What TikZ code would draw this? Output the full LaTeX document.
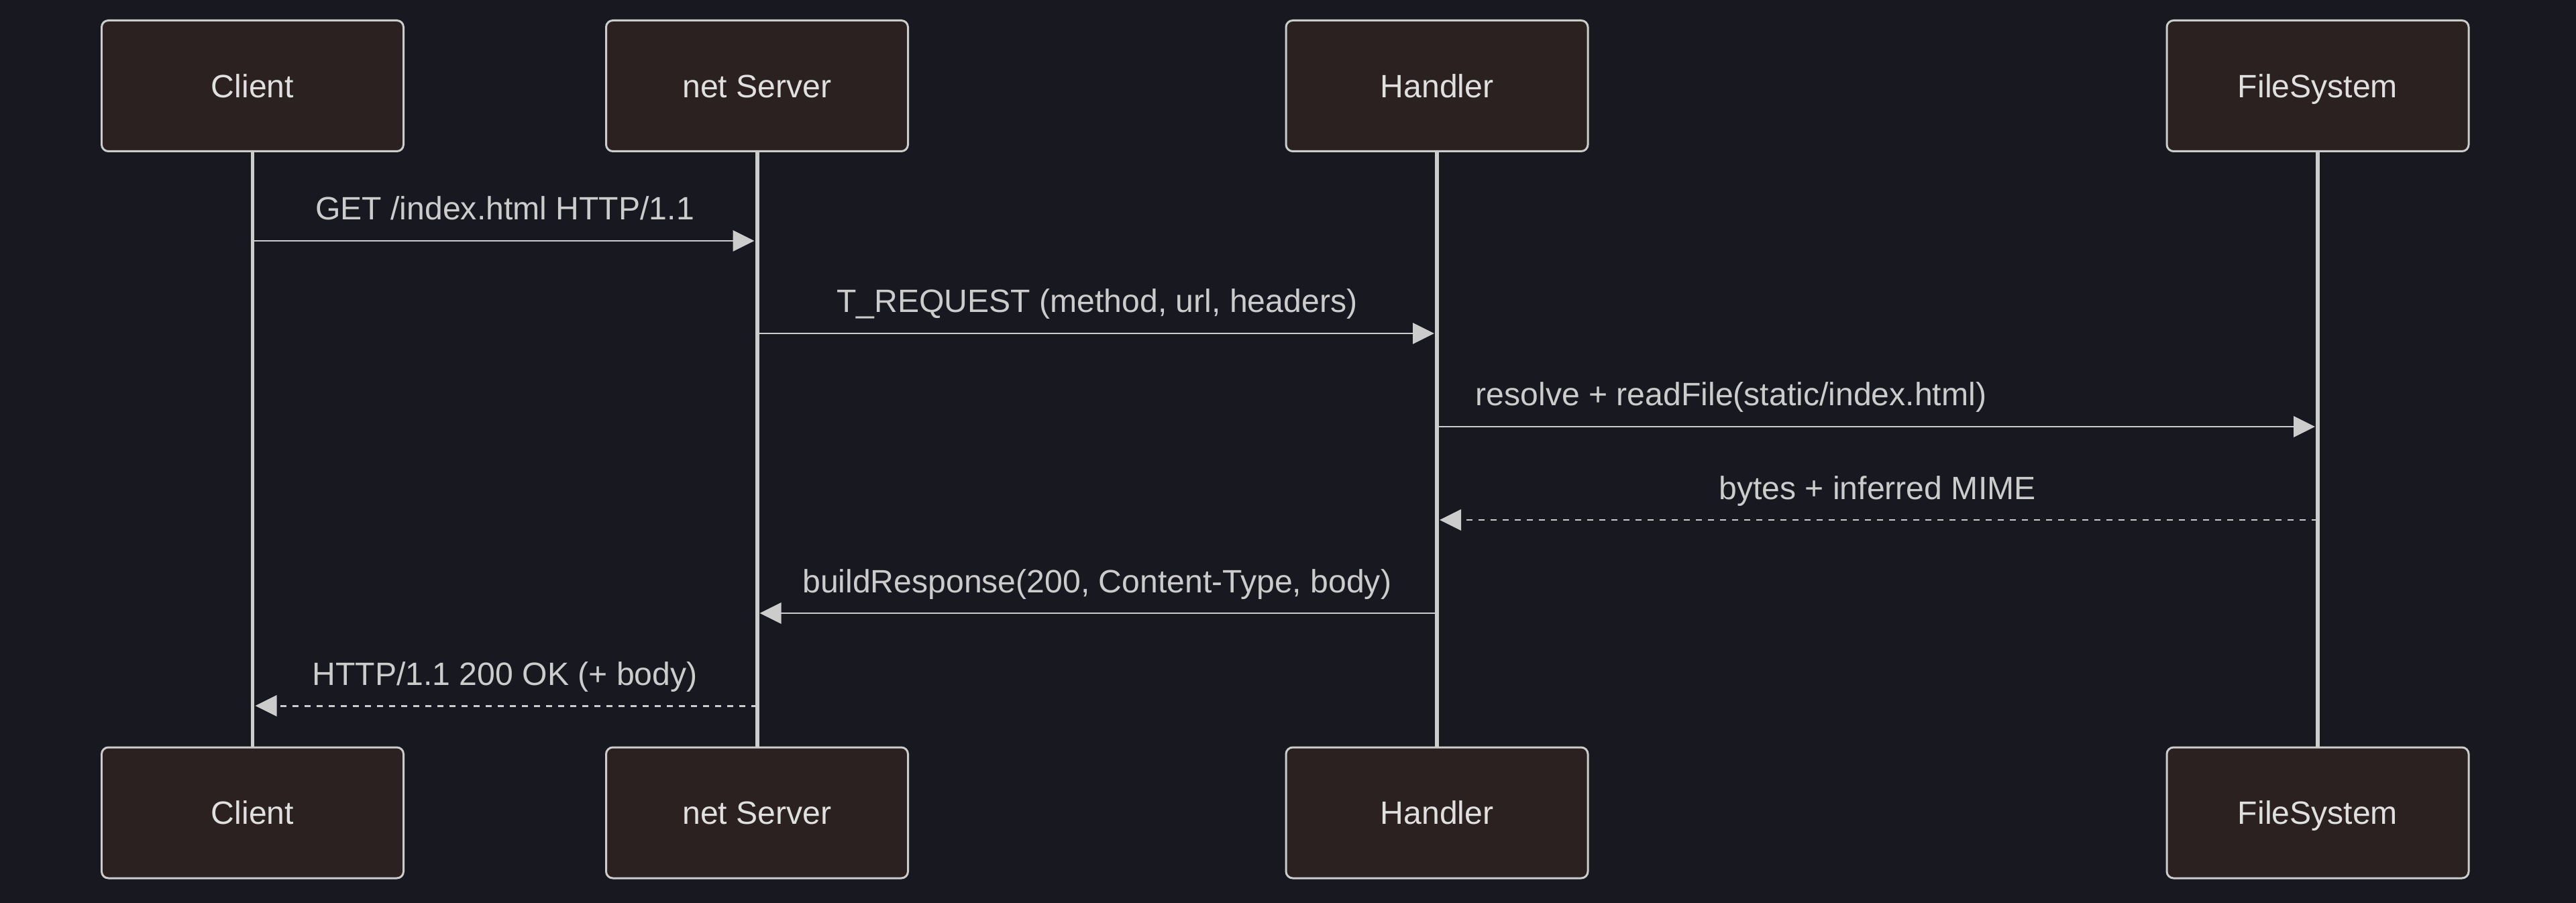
\documentclass[tikz,border=0pt]{standalone}
\usepackage{fontspec}
\setmainfont{Liberation Sans}
\usetikzlibrary{arrows.meta}
\definecolor{bg}{HTML}{181820}
\definecolor{boxfill}{HTML}{2B2121}
\definecolor{edge}{HTML}{CCCCCC}
\definecolor{txt}{HTML}{E0E0E0}

\begin{document}
\begin{tikzpicture}[>={Triangle[length=3.2mm,width=3.1mm]},
  actor/.style={draw=edge,line width=0.85pt,fill=boxfill,rounded corners=1mm,
    minimum width=4.5cm,minimum height=1.95cm,text=txt,font=\fontsize{13.7}{16}\selectfont,
    text height=9.8pt,text depth=0pt},
  life/.style={draw=edge,line width=1.7pt},
  msg/.style={draw=edge,line width=0.85pt,->,shorten >=0.4mm},
  reply/.style={msg,dash pattern=on 0.09cm off 0.09cm},
  lbl/.style={text=edge,font=\fontsize{13.7}{16}\selectfont,anchor=base,yshift=0.31cm}]
         \fill[bg] (0,0) rectangle (38.4,-13.46);
         \useasboundingbox (0,0) rectangle (38.4,-13.46);
         \node[actor] (client) at (3.765,-1.28) {Client};
         \node[actor] (server) at (11.285,-1.28) {net Server};
         \node[actor] (handler) at (21.42,-1.28) {Handler};
         \node[actor] (fs) at (34.55,-1.28) {FileSystem};
         \node[actor] (clientb) at (3.765,-12.115) {Client};
         \node[actor] (serverb) at (11.285,-12.115) {net Server};
         \node[actor] (handlerb) at (21.42,-12.115) {Handler};
         \node[actor] (fsb) at (34.55,-12.115) {FileSystem};
         \draw[life] (client) -- (clientb);
         \draw[life] (server) -- (serverb);
         \draw[life] (handler) -- (handlerb);
         \draw[life] (fs) -- (fsb);
         \coordinate (m1) at (0,-3.59);
         \coordinate (m2) at (0,-4.97);
         \coordinate (m3) at (0,-6.36);
         \coordinate (m4) at (0,-7.75);
         \coordinate (m5) at (0,-9.14);
         \coordinate (m6) at (0,-10.52);
         \draw[msg] (client |- m1) -- (server |- m1) node[lbl,midway] (t1) {GET /index.html HTTP/1.1};
         \draw[msg] (server |- m2) -- (handler |- m2) node[lbl,midway] (t2) {T\_REQUEST (method, url, headers)};
         \draw[msg] (handler |- m3) -- (fs |- m3) node[lbl,pos=0.334] (t3) {resolve + readFile(static/index.html)};
         \draw[reply] (fs |- m4) -- (handler |- m4) node[lbl,midway] (t4) {bytes + inferred MIME};
         \draw[msg] (handler |- m5) -- (server |- m5) node[lbl,midway] (t5) {buildResponse(200, Content-Type, body)};
         \draw[reply] (server |- m6) -- (client |- m6) node[lbl,midway] (t6) {HTTP/1.1 200 OK (+ body)};
        \end{tikzpicture}
\end{document}
